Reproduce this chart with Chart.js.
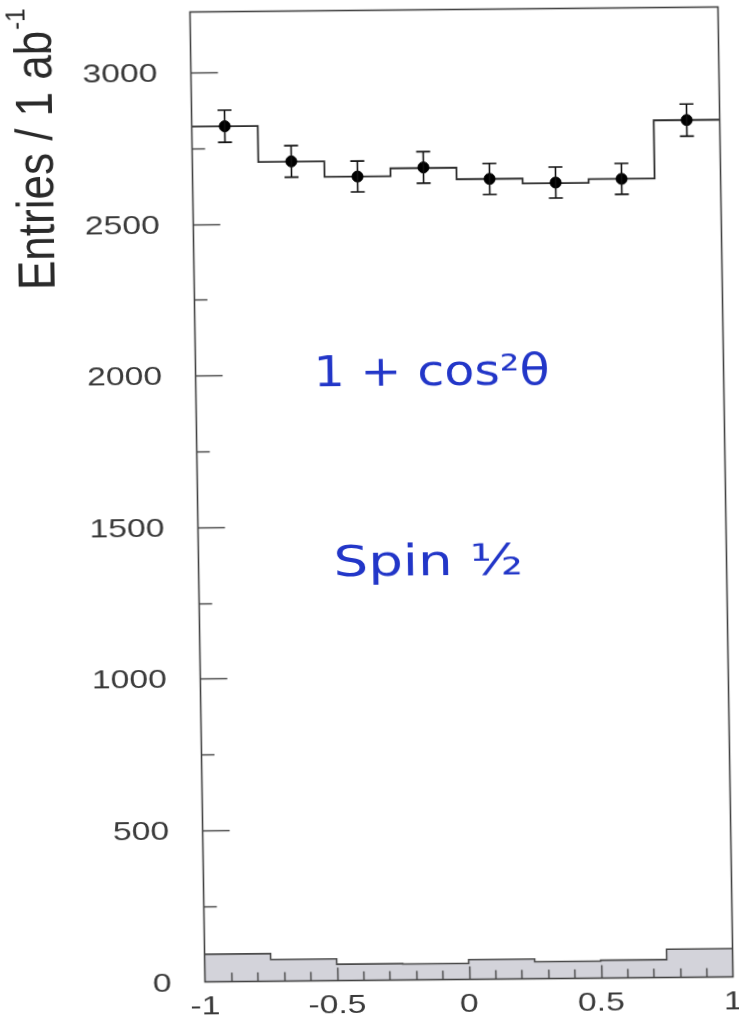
<!DOCTYPE html>
<html>
<head>
<meta charset="utf-8">
<script src="https://cdn.jsdelivr.net/npm/chart.js@4/dist/chart.umd.min.js"></script>
<style>
  html, body { margin: 0; padding: 0; background: #fff; overflow: hidden; }
  /* the scanned figure is slightly skewed, reproduce that */
  #plot { display: block; transform-origin: 461.5px 494.5px; transform: matrix(1, -0.0095, 0.0155, 1, 0, 0); }
</style>
</head>
<body>
<canvas id="plot" width="739" height="1017"></canvas>
<script>
// histogram bins in cos(theta)
var binEdges = [-1, -0.75, -0.5, -0.25, 0, 0.25, 0.5, 0.75, 1];
// expected distribution (solid step line)
var mcValues = [2822, 2703, 2652, 2678, 2640, 2624, 2636, 2828];
// measured points with errors
var dataValues = [2822, 2704, 2652, 2680, 2640, 2626, 2636, 2828];
var dataErrors = [53, 52, 51, 52, 51, 51, 51, 53];
// background (grey filled)
var bgValues = [91, 72, 54, 53, 65, 56, 59, 93];

var xTickLabels = [-1, -0.5, 0, 0.5, 1];
var yTickLabels = [0, 500, 1000, 1500, 2000, 2500, 3000];

var yTitle = 'Entries / 1 ab';
var yTitleSup = '-1';
var note1 = '1 + cos\u00B2\u03B8';
var note2 = 'Spin \u00BD';

function stepData(values) {
    var pts = [];
    values.forEach(function (v, i) {
        pts.push({ x: binEdges[i], y: v });
    });
    pts.push({ x: binEdges[binEdges.length - 1], y: values[values.length - 1] });
    return pts;
}

var centers = [];
for (var i = 0; i < binEdges.length - 1; i++) {
    centers.push((binEdges[i] + binEdges[i + 1]) / 2);
}

function stretchedText(ctx, text, x, y, sx, align) {
    ctx.save();
    ctx.translate(x, y);
    ctx.scale(sx, 1);
    ctx.textAlign = align;
    ctx.fillText(text, 0, 0);
    ctx.restore();
}

var histDecor = {
    id: 'histDecor',
    afterDatasetsDraw: function (chart) {
        var ctx = chart.ctx, xs = chart.scales.x, ys = chart.scales.y, area = chart.chartArea;
        ctx.save();
        // error bars
        ctx.strokeStyle = '#111';
        ctx.lineWidth = 1.6;
        dataValues.forEach(function (v, i) {
            var px = xs.getPixelForValue(centers[i]);
            var top = ys.getPixelForValue(v + dataErrors[i]);
            var bot = ys.getPixelForValue(v - dataErrors[i]);
            ctx.beginPath();
            ctx.moveTo(px, top); ctx.lineTo(px, bot);
            ctx.moveTo(px - 7, top); ctx.lineTo(px + 7, top);
            ctx.moveTo(px - 7, bot); ctx.lineTo(px + 7, bot);
            ctx.stroke();
        });
        // inward ticks, left axis
        ctx.strokeStyle = '#444';
        ctx.lineWidth = 1.4;
        for (var t = 250; t < 3200; t += 250) {
            var py = Math.round(ys.getPixelForValue(t)) + 0.5;
            var len = (t % 500 === 0) ? 27 : 13;
            ctx.beginPath();
            ctx.moveTo(area.left, py); ctx.lineTo(area.left + len, py);
            ctx.stroke();
        }
        // inward ticks, bottom axis
        for (var k = -9; k <= 9; k++) {
            var px2 = Math.round(xs.getPixelForValue(k / 10)) + 0.5;
            var l2 = (k % 5 === 0) ? 13 : 9;
            ctx.beginPath();
            ctx.moveTo(px2, area.bottom); ctx.lineTo(px2, area.bottom - l2);
            ctx.stroke();
        }
        ctx.restore();
    },
    afterDraw: function (chart) {
        var ctx = chart.ctx, xs = chart.scales.x, ys = chart.scales.y, area = chart.chartArea;
        ctx.save();
        // frame
        ctx.strokeStyle = '#444';
        ctx.lineWidth = 1.6;
        ctx.strokeRect(area.left, area.top, area.right - area.left, area.bottom - area.top);

        // tick labels
        ctx.fillStyle = '#3a3a3a';
        ctx.font = '25px "Liberation Sans", Arial, sans-serif';
        yTickLabels.forEach(function (v) {
            stretchedText(ctx, String(v), area.left - 33.5, ys.getPixelForValue(v) + 9, 1.35, 'right');
        });
        xTickLabels.forEach(function (v) {
            stretchedText(ctx, String(v), xs.getPixelForValue(v), area.bottom + 32, 1.35, 'center');
        });

        // y axis title
        ctx.save();
        ctx.translate(58, 286);
        ctx.rotate(-Math.PI / 2);
        ctx.scale(1, 1.18);
        ctx.fillStyle = '#2a2a2a';
        ctx.font = '44px "Liberation Sans", Arial, sans-serif';
        ctx.textAlign = 'left';
        ctx.fillText(yTitle, 0, 0);
        var w = ctx.measureText(yTitle).width;
        ctx.font = '24px "Liberation Sans", Arial, sans-serif';
        ctx.fillText(yTitleSup, w + 1, -22);
        ctx.restore();

        // handwritten notes
        ctx.fillStyle = '#2236c8';
        ctx.font = '42px "DejaVu Sans", sans-serif';
        stretchedText(ctx, note1, xs.getPixelForValue(-0.106), ys.getPixelForValue(1960), 1.17, 'center');
        stretchedText(ctx, note2, xs.getPixelForValue(-0.13), ys.getPixelForValue(1335), 1.3, 'center');
        ctx.restore();
    }
};

var canvas = document.getElementById('plot');
var chart = new Chart(canvas, {
    type: 'line',
    data: {
        datasets: [{
            label: 'data',
            type: 'scatter',
            data: dataValues.map(function (v, i) { return { x: centers[i], y: v }; }),
            pointRadius: 5.5,
            pointBackgroundColor: '#000',
            pointBorderColor: '#000',
            showLine: false,
            order: 0
        }, {
            label: 'expected',
            data: stepData(mcValues),
            stepped: 'before',
            borderColor: '#2e2e2e',
            borderWidth: 1.8,
            pointRadius: 0,
            fill: false,
            order: 1
        }, {
            label: 'background',
            data: stepData(bgValues),
            stepped: 'before',
            borderColor: '#4a4a4a',
            borderWidth: 1.6,
            backgroundColor: '#d3d3da',
            pointRadius: 0,
            fill: 'origin',
            order: 2
        }]
    },
    options: {
        responsive: false,
        animation: false,
        devicePixelRatio: 1,
        layout: { padding: { left: 197.5, right: 13.5, top: 9.5, bottom: 37.5 } },
        plugins: {
            legend: { display: false },
            tooltip: { enabled: false }
        },
        scales: {
            x: { type: 'linear', min: -1, max: 1, display: false },
            y: { type: 'linear', min: 0, max: 3200, display: false }
        }
    },
    plugins: [histDecor]
});
</script>
</body>
</html>
